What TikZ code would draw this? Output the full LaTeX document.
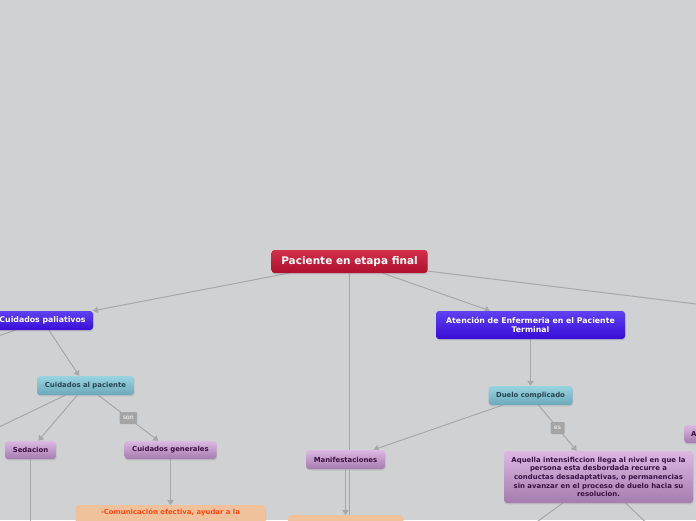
\documentclass[tikz,border=0pt]{standalone}
\usepackage{fontspec}
\setmainfont{DejaVu Sans}
\usetikzlibrary{arrows.meta,positioning,shadows}
\usepackage{xcolor}
\definecolor{pagegray}{RGB}{208,209,211}
\definecolor{wiregray}{RGB}{168,168,168}
\definecolor{rootred}{RGB}{210,48,74}
\definecolor{rootdark}{RGB}{176,16,46}
\definecolor{topblue}{RGB}{94,66,242}
\definecolor{topbluedk}{RGB}{56,12,214}
\definecolor{tealtop}{RGB}{152,212,224}
\definecolor{tealbot}{RGB}{108,168,184}
\definecolor{tealtext}{RGB}{40,68,84}
\definecolor{plumtop}{RGB}{220,184,226}
\definecolor{plumbot}{RGB}{164,124,174}
\definecolor{plumtext}{RGB}{56,18,66}
\definecolor{peach}{RGB}{240,194,156}
\definecolor{peachtext}{RGB}{255,72,20}
\definecolor{taggray}{RGB}{165,165,165}
\pgfdeclarelayer{back}
\pgfdeclarelayer{wires}
\pgfsetlayers{back,wires,main}

\begin{document}
\begin{tikzpicture}[x=1pt, y=-1pt, >={Triangle[length=5pt,width=6.5pt]},
  s/.style={rounded corners=3pt, align=center, inner xsep=6pt, inner ysep=2pt,
            font=\bfseries\fontsize{6.9}{8.7}\selectfont,
            drop shadow={shadow xshift=0.6pt, shadow yshift=-1.4pt, opacity=0.22}},
  rt/.style={s, top color=rootred, bottom color=rootdark, text=white,
             font=\bfseries\fontsize{10.5}{12}\selectfont, minimum height=23pt},
  bl/.style={s, top color=topblue, bottom color=topbluedk, text=white,
             font=\bfseries\fontsize{7.8}{9.2}\selectfont},
  tl/.style={s, top color=tealtop, bottom color=tealbot, text=tealtext, minimum height=19pt},
  pl/.style={s, top color=plumtop, bottom color=plumbot, text=plumtext, minimum height=19pt},
  pc/.style={s, fill=peach, text=peachtext, anchor=north, inner ysep=4pt},
  w/.style={draw=wiregray, line width=1pt},
  lb/.style={fill=taggray, text=white, rounded corners=1pt, inner xsep=3.5pt,
             minimum height=12pt, font=\fontsize{6}{7}\selectfont}]

\useasboundingbox (0,0) rectangle (696,520);
\begin{pgfonlayer}{back}
  \fill[pagegray] (0,0) rectangle (696,520);
\end{pgfonlayer}

% --- root ---
\node[rt, minimum width=156pt] (root) at (349.5,261.5) {Paciente en etapa final};

% --- left branch ---
\node[bl, minimum width=101pt, minimum height=19pt] (pal) at (42.5,320.5) {Cuidados paliativos};
\node[tl, minimum width=97pt] (cpac) at (85.5,385.5) {Cuidados al paciente};
\node[pl, minimum width=51pt, minimum height=18pt] (sed) at (30.5,450) {Sedacion};
\node[pl, minimum width=92pt, minimum height=18pt] (cgen) at (170.5,450) {Cuidados generales};
\node[pc, minimum width=190pt, text depth=20pt] (com) at (170.5,505) {-Comunicación efectiva, ayudar a la};

% --- middle / right branch ---
\node[bl, minimum width=189pt, minimum height=28pt] (aten) at (530.5,325) {Atención de Enfermeria en el Paciente\\Terminal};
\node[tl, minimum width=84pt] (duel) at (530.5,395.5) {Duelo complicado};
\node[pl, minimum width=79pt] (manif) at (345.5,459.5) {Manifestaciones};
\node[pc, minimum width=115pt, minimum height=20pt] (fin) at (345.5,515) {};
\node[pl, minimum width=189pt, minimum height=52pt] (aque) at (598.5,477)
  {Aquella intensificcion llega al nivel en que la\\persona esta desbordada recurre a\\conductas desadaptativas, o permanencias\\sin avanzar en el proceso de duelo hacia su\\resolucion.};
\node[pl, anchor=west, minimum width=60pt, minimum height=18pt, text width=46pt, align=left] (aside) at (684,434) {A};

% --- loose ends (outside the page) ---
\coordinate (offR) at (900,329);
\coordinate (offD) at (349.5,640);
\coordinate (offL1) at (-150,388);
\coordinate (offL2) at (-150,498.5);
\coordinate (offS) at (30.5,640);
\coordinate (offA1) at (430.5,599.4);
\coordinate (offA2) at (719,592.5);

\begin{pgfonlayer}{wires}
\draw[w,->] (root) -- (pal);  \draw[w,->] (root) -- (aten);
\draw[w] (root) -- (offR);    \draw[w] (root) -- (offD);
\draw[w] (pal) -- (offL1);    \draw[w,->] (pal) -- (cpac);
\draw[w] (cpac) -- (offL2);   \draw[w,->] (cpac) -- (sed);
\draw[w,->] (cpac) -- node[lb]{son} (cgen);
\draw[w] (sed) -- (offS);     \draw[w,->] (cgen) -- (com);
\draw[w,->] (aten) -- (duel); \draw[w,->] (duel) -- (manif);
\draw[w,->] (duel) -- node[lb]{es} (aque);
\draw[w,->] (manif) -- (fin);
\draw[w] (aque) -- (offA1);   \draw[w] (aque) -- (offA2);
\end{pgfonlayer}
\end{tikzpicture}
\end{document}
